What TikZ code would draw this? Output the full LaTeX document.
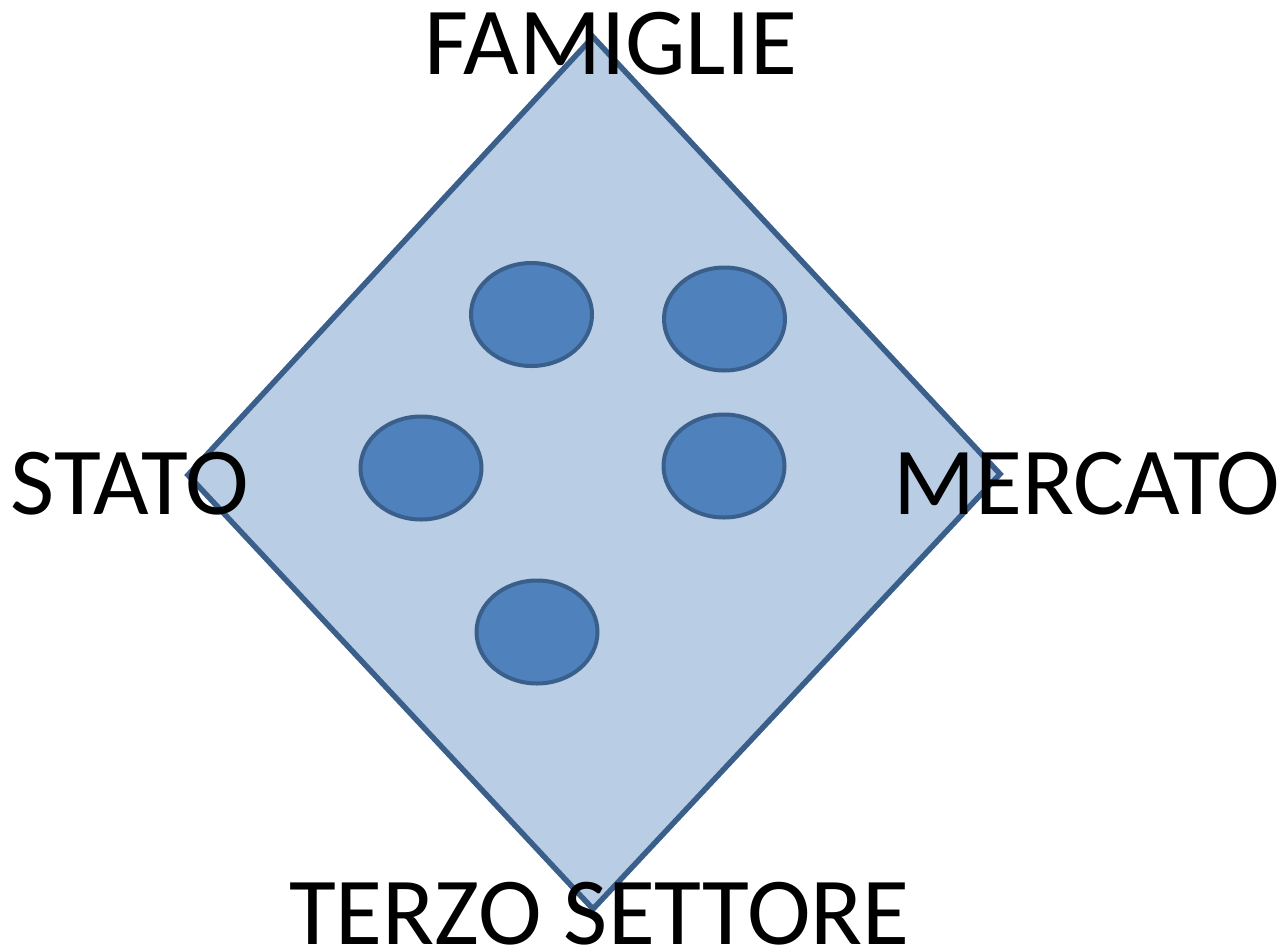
\documentclass[tikz,border=0pt]{standalone}
\usepackage{fontspec}
\setmainfont{Carlito}
\usetikzlibrary{shapes.geometric}
\definecolor{diafill}{HTML}{B9CDE5}
\definecolor{diaedge}{HTML}{3A5F8B}
\definecolor{dotfill}{HTML}{4F81BD}
\tikzset{
  dot/.style={ellipse, draw=diaedge, fill=dotfill, line width=4pt, inner sep=0pt, minimum width=121pt, minimum height=103pt},
  label/.style={anchor=base, inner sep=0pt, font=\fontsize{96}{110}\selectfont}
}
\begin{document}
\begin{tikzpicture}[x=1pt,y=-1pt]
\useasboundingbox (0,0) rectangle (1279,951);
\coordinate (top) at (593,37);
\coordinate (left) at (188,475);
\coordinate (right) at (1000,474);
\coordinate (bottom) at (593,909);
\draw[fill=diafill, draw=diaedge, line width=5.5pt, line join=miter] (top) -- (right) -- (bottom) -- (left) -- cycle;
\node[dot] (e1) at (531.5,314.5) {};
\node[dot] (e2) at (724.5,319) {};
\node[dot] (e3) at (421,468) {};
\node[dot] (e4) at (724,466) {};
\node[dot] (e5) at (537,632) {};
\node[label] (fam) at (611,74) {FAMIGLIE};
\node[label] (sta) at (130,514) {STATO};
\node[label] (mer) at (1087,514) {MERCATO};
\node[label] (ter) at (599.5,944) {TERZO SETTORE};
\end{tikzpicture}
\end{document}
